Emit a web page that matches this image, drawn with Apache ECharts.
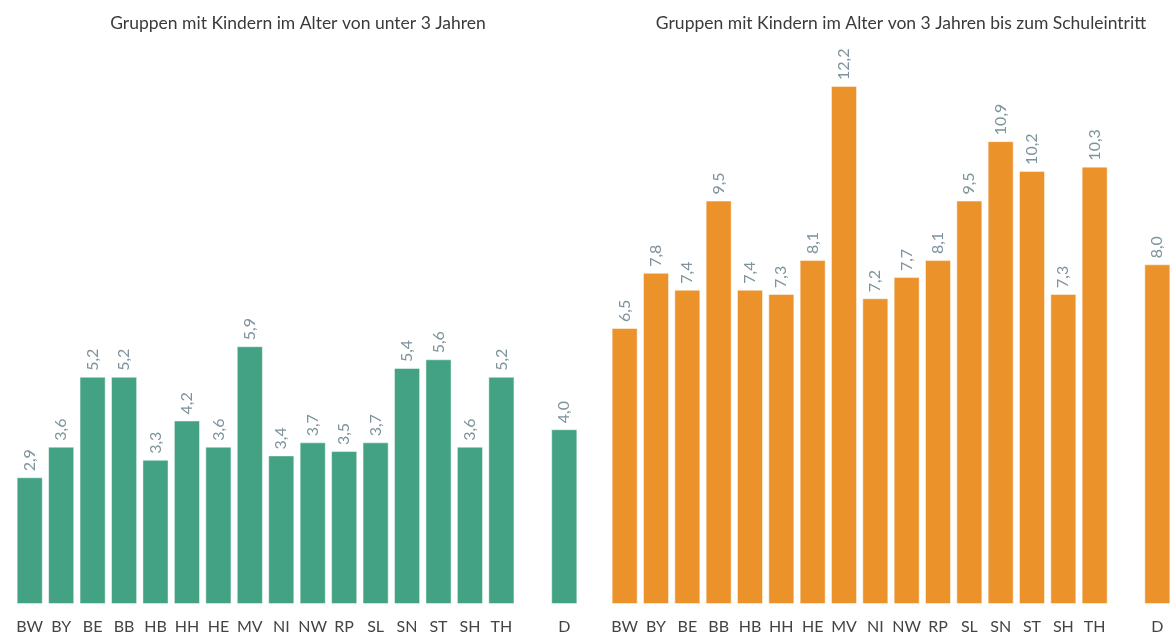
<!DOCTYPE html>
<html>
<head>
<meta charset="utf-8">
<script src="https://cdn.jsdelivr.net/npm/echarts@6/dist/echarts.min.js"></script>
<style>
html, body { margin: 0; padding: 0; background: #fff; }
#container { width: 1173px; height: 639px; }
</style>
</head>
<body>
<div id="container"></div>
<script>
var categories = ['BW', 'BY', 'BE', 'BB', 'HB', 'HH', 'HE', 'MV', 'NI', 'NW', 'RP', 'SL', 'SN', 'ST', 'SH', 'TH', '', 'D'];
var under3 = [2.9, 3.6, 5.2, 5.2, 3.3, 4.2, 3.6, 5.9, 3.4, 3.7, 3.5, 3.7, 5.4, 5.6, 3.6, 5.2, null, 4.0];
var over3 = [6.5, 7.8, 7.4, 9.5, 7.4, 7.3, 8.1, 12.2, 7.2, 7.7, 8.1, 9.5, 10.9, 10.2, 7.3, 10.3, null, 8.0];
var titles = ['Gruppen mit Kindern im Alter von unter 3 Jahren', 'Gruppen mit Kindern im Alter von 3 Jahren bis zum Schuleintritt'];

var dom = document.getElementById('container');
var myChart = echarts.init(dom);

var font = 'Lato, "Open Sans", sans-serif';

function label() {
    return {
        show: true,
        position: 'top',
        rotate: 90,
        align: 'left',
        verticalAlign: 'middle',
        distance: 6,
        color: '#7f939c',
        fontSize: 16,
        fontFamily: font,
        formatter: function (p) {
            return p.value == null ? '' : p.value.toFixed(1).replace('.', ',');
        }
    };
}

function xAxis(idx) {
    return {
        type: 'category',
        gridIndex: idx,
        data: categories,
        axisLine: { show: false },
        axisTick: { show: false },
        axisLabel: { color: '#444', fontSize: 16, fontFamily: font, margin: 15, interval: 0 }
    };
}

function yAxis(idx) {
    return {
        type: 'value',
        gridIndex: idx,
        min: 0,
        max: 13,
        show: false,
        splitLine: { show: false }
    };
}

option = {
    backgroundColor: '#fff',
    animation: false,
    title: [
        { text: titles[0], left: 293, top: 9, textAlign: 'center',
          textStyle: { fontSize: 17.5, fontWeight: 'normal', color: '#3a3a3a', fontFamily: font } },
        { text: titles[1], left: 896, top: 9, textAlign: 'center',
          textStyle: { fontSize: 17.5, fontWeight: 'normal', color: '#3a3a3a', fontFamily: font } }
    ],
    grid: [
        { left: 14, width: 566, top: 36, bottom: 35 },
        { left: 609, width: 567, top: 52, bottom: 35 }
    ],
    xAxis: [xAxis(0), xAxis(1)],
    yAxis: [yAxis(0), yAxis(1)],
    series: [
        {
            type: 'bar',
            xAxisIndex: 0,
            yAxisIndex: 0,
            data: under3,
            barCategoryGap: '17%',
            itemStyle: { color: '#42a283', borderColor: 'rgba(255,255,255,0.45)', borderWidth: 1 },
            label: label()
        },
        {
            type: 'bar',
            xAxisIndex: 1,
            yAxisIndex: 1,
            data: over3,
            barCategoryGap: '17%',
            itemStyle: { color: '#ec922b', borderColor: 'rgba(255,255,255,0.45)', borderWidth: 1 },
            label: label()
        }
    ]
};
myChart.setOption(option);

window.addEventListener('resize', function () {
    myChart.resize();
});
</script>
</body>
</html>
